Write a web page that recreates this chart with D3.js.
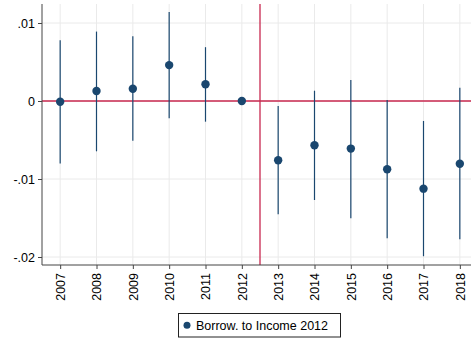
<!DOCTYPE html>
<html>
<head>
<meta charset="utf-8">
<script src="https://cdn.jsdelivr.net/npm/d3@7"></script>
<style>
  html, body { margin: 0; padding: 0; background: #fff; }
  svg { display: block; font-family: "Liberation Sans", Arial, Helvetica, sans-serif; }
</style>
</head>
<body>
<svg id="chart" width="471" height="343"></svg>
<script>
// Event-study coefficients with 95% confidence intervals, reference year 2012
const years    = [2007, 2008, 2009, 2010, 2011, 2012, 2013, 2014, 2015, 2016, 2017, 2018];
const estimate = [-0.0001, 0.00128, 0.00158, 0.0046, 0.00214, 0, -0.0076, -0.00568, -0.0061, -0.00875, -0.01124, -0.00804];
const ciUpper  = [0.0078, 0.0089, 0.0083, 0.0114, 0.0069, 0, -0.00064, 0.00132, 0.0027, 0.00013, -0.00256, 0.0017];
const ciLower  = [-0.0080, -0.00645, -0.0051, -0.0022, -0.00265, 0, -0.01453, -0.01269, -0.01504, -0.0176, -0.0199, -0.01773];
const yTicks      = [0.01, 0, -0.01, -0.02];
const yTickLabels = [".01", "0", "-.01", "-.02"];
const legendLabel = "Borrow. to Income 2012";
const breakYear   = 2012.5;

const navy = "#1a476f";
const red  = "#c8284f";

const svg = d3.select("#chart");
const plotLeft = 42, plotTop = 4, plotBottom = 265, plotRight = 478;

const x = d3.scaleLinear().domain([2006.5, 2018.5]).range([plotLeft, plotRight]);
const y = d3.scaleLinear().domain([0.01, 0]).range([23, 101]);

// gridlines
svg.append("g").selectAll("line").data(yTicks).join("line")
  .attr("x1", plotLeft).attr("x2", plotRight)
  .attr("y1", d => y(d)).attr("y2", d => y(d))
  .attr("stroke", "#eaeaea").attr("stroke-width", 1);
svg.append("g").selectAll("line").data(years).join("line")
  .attr("x1", d => x(d)).attr("x2", d => x(d))
  .attr("y1", plotTop).attr("y2", plotBottom)
  .attr("stroke", "#eaeaea").attr("stroke-width", 1);

// reference lines
svg.append("line")
  .attr("x1", plotLeft).attr("x2", plotRight).attr("y1", y(0)).attr("y2", y(0))
  .attr("stroke", red).attr("stroke-width", 1.3);
svg.append("line")
  .attr("x1", x(breakYear)).attr("x2", x(breakYear)).attr("y1", plotTop).attr("y2", plotBottom)
  .attr("stroke", red).attr("stroke-width", 1.3);

// axes
const yAxis = d3.axisLeft(y).tickValues(yTicks)
  .tickFormat((d, i) => yTickLabels[i]).tickSize(4).tickPadding(3);
const gy = svg.append("g").attr("transform", `translate(${plotLeft},0)`).call(yAxis);
gy.select(".domain").attr("d", `M0,${plotTop}V${plotBottom}`).attr("stroke", "#444");
gy.selectAll(".tick line").attr("stroke", "#444");
gy.selectAll(".tick text").attr("font-size", 12.5).attr("fill", "#000")
  .attr("font-family", "Liberation Sans, Arial, sans-serif");

const xAxis = d3.axisBottom(x).tickValues(years).tickFormat(d3.format("d")).tickSize(4);
const gx = svg.append("g").attr("transform", `translate(0,${plotBottom})`).call(xAxis);
gx.select(".domain").attr("d", `M${plotLeft},0H${plotRight}`).attr("stroke", "#444");
gx.selectAll(".tick line").attr("stroke", "#444");
gx.selectAll(".tick text")
  .attr("font-size", 12.5).attr("fill", "#000")
  .attr("font-family", "Liberation Sans, Arial, sans-serif")
  .attr("transform", "rotate(-90)")
  .attr("text-anchor", "end")
  .attr("dy", "0.35em")
  .attr("x", -8).attr("y", 0);

// confidence intervals
svg.append("g").selectAll("line").data(years).join("line")
  .attr("x1", d => x(d)).attr("x2", d => x(d))
  .attr("y1", (d, i) => y(ciUpper[i])).attr("y2", (d, i) => y(ciLower[i]))
  .attr("stroke", navy).attr("stroke-width", 1.2);

// point estimates
svg.append("g").selectAll("circle").data(years).join("circle")
  .attr("cx", d => x(d)).attr("cy", (d, i) => y(estimate[i]))
  .attr("r", 4.2).attr("fill", navy);

// legend
const lg = svg.append("g");
lg.append("rect").attr("x", 178.5).attr("y", 313.5).attr("width", 162).attr("height", 23.5)
  .attr("fill", "#fff").attr("stroke", "#222").attr("stroke-width", 1);
lg.append("circle").attr("cx", 187).attr("cy", 325.3).attr("r", 3.5).attr("fill", navy);
lg.append("text").attr("x", 196).attr("y", 329.8).attr("font-size", 12.5).attr("fill", "#000")
  .text(legendLabel);
</script>
</body>
</html>
